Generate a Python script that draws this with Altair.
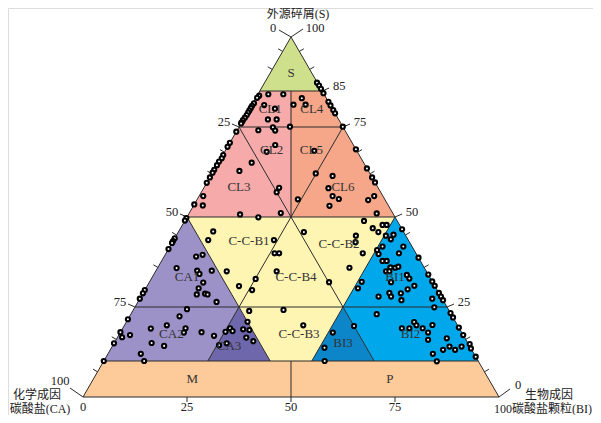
import altair as alt
import pandas as pd

# ---------------- sample compositions (S = 外源碎屑 %, BI = 生物成因碳酸盐颗粒 %) ----------------
S_VALS = [87.3, 86.5, 85.6, 84.4, 82.0, 81.0, 79.7, 78.8, 83.7, 83.1, 81.6, 80.9, 80.3, 79.6, 79.0, 78.3,
          77.6, 76.9, 76.3, 76.0, 84.1, 84.1, 81.1, 80.1, 77.1, 77.1, 81.2, 83.0, 81.2, 75.1, 75.1,
          74.1, 74.9, 74.0, 70.0, 68.1, 65.1, 62.8, 58.1, 56.9, 51.1, 50.7, 73.7, 70.6, 69.5, 67.2,
          66.3, 65.4, 64.4, 63.1, 62.3, 61.0, 59.5, 55.8, 53.2, 53.5, 68.8, 63.5, 61.0, 59.6, 62.1,
          68.4, 61.4, 58.0, 55.8, 55.0, 53.1, 54.9, 54.7, 55.8, 51.0,
          49.9, 46.0, 43.6, 43.6, 39.9, 39.9, 34.9, 34.9, 32.8, 29.7, 30.8, 45.8, 48.9, 46.9, 45.8,
          47.8, 47.8, 44.8, 43.0, 39.9, 35.9, 31.9, 24.2, 19.9, 23.9,
          49.7, 49.0, 44.1, 43.3, 42.8, 41.1, 39.0, 39.5, 35.8, 35.1, 34.2, 35.1, 31.8, 30.2, 28.5,
          28.7, 28.5, 26.4, 29.7, 28.8, 27.3,
          24.4, 22.4, 21.6, 19.9, 19.0, 19.1, 17.9, 18.0, 17.0, 18.0, 16.6, 17.2, 15.0, 14.2, 14.9,
          12.0, 10.0, 10.0,
          20.9, 19.1, 18.3, 18.1, 18.8, 18.6, 16.5, 15.5, 14.4, 14.9,
          46.6, 45.1, 43.8, 44.8, 41.8, 40.8, 39.7, 41.8, 39.9, 38.7, 37.8, 37.8, 36.0, 35.9, 36.2,
          34.9, 34.9, 33.9, 32.9, 34.0, 31.9, 30.9, 29.9, 32.1, 30.9, 28.8, 26.9, 28.9, 27.9, 27.9,
          27.3, 28.9, 27.9, 26.9, 24.9, 32.0, 30.2,
          23.0, 19.7, 17.9, 13.7, 10.0, 19.1, 19.1, 20.8, 19.9, 19.1, 17.9, 15.9, 20.0, 23.3, 22.1,
          19.3, 17.2, 16.3, 14.0, 13.1, 14.0, 13.1, 14.7, 13.5, 11.2, 12.0, 9.9]
BI_VALS = [12.6, 13.5, 14.4, 15.6, 18.0, 19.0, 20.3, 21.2, 0.5, 0.3, 0.3, 0.2, 0.2, 0.2, 0.2, 0.2,
           0.1, 0.0, 0.0, 0.0, 2.5, 6.1, 3.0, 6.1, 5.9, 8.0, 10.0, 11.1, 12.9, 12.2, 24.9,
           5.1, 8.2, 9.2, 11.2, 10.1, 8.0, 6.2, 18.1, 18.1, 22.0, 12.4, 0.0, 0.0, 0.0, 0.1,
           0.2, 0.0, 0.0, 0.0, 0.0, 0.0, 0.0, 1.0, 2.2, 0.0, 31.2, 36.5, 39.0, 40.4, 24.9,
           21.4, 29.3, 30.0, 32.1, 34.0, 32.7, 24.2, 41.2, 42.1, 45.1,
           17.2, 8.3, 8.3, 24.1, 26.1, 27.2, 29.1, 17.1, 25.1, 25.8, 22.1, 30.2, 43.1, 46.2, 48.1,
           48.1, 49.1, 43.2, 44.0, 47.3, 46.1, 43.2, 36.1, 43.0, 28.0,
           0.0, 0.0, 0.0, 0.0, 0.0, 0.0, 7.7, 9.0, 4.6, 9.9, 10.9, 13.4, 13.0, 12.7, 13.1,
           15.0, 15.7, 18.9, 0.0, 0.0, 0.0,
           12.8, 12.0, 0.0, 10.2, 6.8, 15.1, 15.3, 19.5, 23.0, 0.0, 1.1, 2.7, 9.0, 12.4, 0.0,
           7.9, 9.7, 0.0,
           29.1, 25.8, 26.8, 25.2, 29.1, 30.7, 31.0, 33.2, 25.5, 27.1,
           53.4, 52.1, 52.1, 50.4, 51.1, 50.3, 51.2, 56.1, 56.0, 61.3, 53.1, 54.1, 55.9, 57.1, 57.7,
           55.4, 56.2, 60.9, 62.0, 66.0, 58.1, 64.2, 63.1, 67.9, 69.1, 62.0, 63.1, 59.2, 60.1, 57.1,
           70.3, 71.1, 72.1, 73.1, 72.0, 51.0, 51.0,
           59.1, 55.3, 51.1, 51.2, 53.1, 67.1, 68.9, 69.2, 70.2, 72.1, 74.0, 75.0, 74.0, 76.7, 77.9,
           80.7, 82.8, 79.3, 81.1, 82.9, 84.0, 80.0, 85.6, 86.5, 88.8, 78.1, 80.1]

# ---------------- classification fields, vertices as (S %, BI %) ----------------
REGION_NAMES = ["S", "CL1", "CL4", "CL2", "CL3", "CL5", "CL6", "C-C-B1", "C-C-B2", "C-C-B4",
                "CA1", "BI1", "CA2", "CA3", "C-C-B3", "BI3", "BI2", "M", "P"]
REGION_VERTS = [
    [(85, 0), (85, 15), (100, 0)],
    [(75, 0), (75, 12.5), (85, 7.5), (85, 0)],
    [(75, 12.5), (75, 25), (85, 15), (85, 7.5)],
    [(75, 0), (75, 12.5), (50, 25)],
    [(50, 0), (75, 0), (50, 25)],
    [(75, 12.5), (75, 25), (50, 25)],
    [(75, 25), (50, 50), (50, 25)],
    [(50, 0), (50, 25), (25, 25)],
    [(50, 25), (50, 50), (25, 50)],
    [(50, 25), (25, 25), (25, 50)],
    [(50, 0), (25, 0), (25, 25)],
    [(50, 50), (25, 50), (25, 75)],
    [(25, 0), (25, 25), (10, 25), (10, 0)],
    [(25, 25), (10, 25), (10, 40)],
    [(25, 25), (25, 50), (10, 50), (10, 40)],
    [(25, 50), (10, 50), (10, 65)],
    [(25, 50), (25, 75), (10, 90), (10, 65)],
    [(0, 0), (0, 50), (10, 45), (10, 0)],
    [(0, 50), (0, 100), (10, 90), (10, 45)],
]
REGION_COLORS = ["#cfe08c", "#f6aaaa", "#f6a78a", "#f6aaaa", "#f6aaaa", "#f6a78a", "#f6a78a",
                 "#fff5b3", "#fff5b3", "#fff5b3", "#9c92c8", "#00a7ea", "#9c92c8", "#6f67ac",
                 "#fff5b3", "#0d86c9", "#00a7ea", "#fccb99", "#fccb99"]
# small label nudges in pixels (dx, dy)
LABEL_NUDGE = {"C-C-B1": (10, -6), "C-C-B2": (-4, -3), "CL2": (-2, -7), "CL5": (3, -7),
               "CA3": (-10, 3), "C-C-B3": (8, 0), "C-C-B4": (5, 0)}

# boundary segments, endpoints as (S, BI)
SEGMENTS = [
    ((0, 0), (100, 0)), ((100, 0), (0, 100)), ((0, 0), (0, 100)),
    ((85, 0), (85, 15)), ((75, 0), (75, 25)), ((50, 0), (50, 50)), ((25, 0), (25, 75)), ((10, 0), (10, 90)),
    ((0, 50), (10, 45)), ((50, 25), (85, 7.5)),
    ((75, 0), (50, 25)), ((75, 25), (50, 25)),
    ((50, 0), (10, 40)), ((50, 50), (10, 50)), ((50, 25), (10, 25)), ((50, 25), (10, 65)),
]

LEFT_LABELS = [25, 50, 75]          # CA % on the left edge
RIGHT_LABELS = [85, 75, 50, 25]     # S % on the right edge
BOTTOM_LABELS = [0, 25, 50, 75]
EDGE_TICKS = [96, 91, 68, 62, 45, 36, 16, 7]   # S % of small edge ticks

# ---------------- geometry / scales ----------------
W, H = 585, 407
KX, KY = 4.16, 3.6
X0, Y0 = 75, 389
UMIN = -X0 / KX
UMAX = UMIN + W / KX
VMAX = Y0 / KY
VMIN = VMAX - H / KY
XS = alt.Scale(domain=[UMIN, UMAX], nice=False, zero=False)
YS = alt.Scale(domain=[VMIN, VMAX], nice=False, zero=False)


def to_uv(s, bi):
    return bi + s / 2.0, s


def px(u, v, dx, dy):
    return u + dx / KX, v - dy / KY


FONT = "Liberation Serif, Noto Sans CJK SC"

# fields as area bands
rows = []
for name, verts in zip(REGION_NAMES, REGION_VERTS):
    uv = [to_uv(s, b) for s, b in verts]
    n = len(uv)
    for u0 in sorted(set(round(u, 6) for u, _ in uv)):
        vs = []
        for i in range(n):
            (u1, v1), (u2, v2) = uv[i], uv[(i + 1) % n]
            if abs(u1 - u2) < 1e-9:
                if abs(u1 - u0) < 1e-9:
                    vs += [v1, v2]
            elif min(u1, u2) - 1e-9 <= u0 <= max(u1, u2) + 1e-9:
                vs.append(v1 + (v2 - v1) * (u0 - u1) / (u2 - u1))
        rows.append(dict(region=name, u=u0, top=max(vs), bot=min(vs)))
area_df = pd.DataFrame(rows)

areas = alt.Chart(area_df).mark_area(opacity=1, strokeWidth=0).encode(
    x=alt.X("u:Q", scale=XS, axis=None),
    y=alt.Y("top:Q", scale=YS, axis=None, stack=None),
    y2="bot:Q",
    color=alt.Color("region:N", scale=alt.Scale(domain=REGION_NAMES, range=REGION_COLORS), legend=None),
    detail="region:N",
)

# boundary lines + ticks + leaders
seg_rows = []
for (a, b) in SEGMENTS:
    u1, v1 = to_uv(*a)
    u2, v2 = to_uv(*b)
    seg_rows.append(dict(u1=u1, v1=v1, u2=u2, v2=v2))
for s in EDGE_TICKS:
    u, v = to_uv(s, 0)
    x2, y2 = px(u, v, -4.5, -2.6)
    seg_rows.append(dict(u1=u, v1=v, u2=x2, v2=y2))
    u, v = to_uv(s, 100 - s)
    x2, y2 = px(u, v, 4.5, -2.6)
    seg_rows.append(dict(u1=u, v1=v, u2=x2, v2=y2))
for ca in LEFT_LABELS:
    u, v = to_uv(100 - ca, 0)
    x2, y2 = px(u, v, -7, -3)
    seg_rows.append(dict(u1=u, v1=v, u2=x2, v2=y2))
for s in RIGHT_LABELS:
    u, v = to_uv(s, 100 - s)
    x2, y2 = px(u, v, 7, -3)
    seg_rows.append(dict(u1=u, v1=v, u2=x2, v2=y2))
for b in BOTTOM_LABELS[1:]:
    u, v = to_uv(0, b)
    x2, y2 = px(u, v, 0, 5)
    seg_rows.append(dict(u1=u, v1=v, u2=x2, v2=y2))
# corner leaders
for (s, b, dx, dy) in [(100, 0, -12, -7), (100, 0, 12, -8), (0, 0, -13, -9), (0, 100, 11, -8)]:
    u, v = to_uv(s, b)
    x2, y2 = px(u, v, dx, dy)
    seg_rows.append(dict(u1=u, v1=v, u2=x2, v2=y2))
seg_df = pd.DataFrame(seg_rows)

lines = alt.Chart(seg_df).mark_rule(color="#2b2b2b", strokeWidth=1).encode(
    x=alt.X("u1:Q", scale=XS, axis=None), y=alt.Y("v1:Q", scale=YS, axis=None),
    x2="u2:Q", y2="v2:Q",
)

# samples
pts = []
for s, b in zip(S_VALS, BI_VALS):
    u, v = to_uv(s, b)
    pts.append(dict(u=u, v=v))
pt_df = pd.DataFrame(pts)
points = alt.Chart(pt_df).mark_point(shape="circle", filled=True, color="white", stroke="black",
                                     strokeWidth=2.1, size=17, opacity=1).encode(
    x=alt.X("u:Q", scale=XS, axis=None), y=alt.Y("v:Q", scale=YS, axis=None),
)

# region labels at vertex means
lab_rows = []
for name, verts in zip(REGION_NAMES, REGION_VERTS):
    uv = [to_uv(s, b) for s, b in verts]
    cu = sum(p[0] for p in uv) / len(uv)
    cv = sum(p[1] for p in uv) / len(uv)
    dx, dy = LABEL_NUDGE.get(name, (0, 0))
    cu, cv = px(cu, cv, dx, dy)
    lab_rows.append(dict(t=name, u=cu, v=cv))
lab_df = pd.DataFrame(lab_rows)
region_text = alt.Chart(lab_df).mark_text(font=FONT, fontSize=13, color="#333333", baseline="middle").encode(
    x=alt.X("u:Q", scale=XS, axis=None), y=alt.Y("v:Q", scale=YS, axis=None), text="t:N",
)

# axis / tick text
txt = []
for ca in LEFT_LABELS:
    u, v = to_uv(100 - ca, 0)
    x, y = px(u, v, -15, -5)
    txt.append(dict(t=str(ca), u=x, v=y))
for s in RIGHT_LABELS:
    u, v = to_uv(s, 100 - s)
    x, y = px(u, v, 17, -5)
    txt.append(dict(t=str(s), u=x, v=y))
for b in BOTTOM_LABELS:
    u, v = to_uv(0, b)
    x, y = px(u, v, 0, 10)
    txt.append(dict(t=str(b), u=x, v=y))
u, v = to_uv(100, 0)
x, y = px(u, v, -18, -9); txt.append(dict(t="0", u=x, v=y))
x, y = px(u, v, 24, -9); txt.append(dict(t="100", u=x, v=y))
u, v = to_uv(0, 0)
x, y = px(u, v, -23, -16); txt.append(dict(t="100", u=x, v=y))
u, v = to_uv(0, 100)
x, y = px(u, v, 19, -12); txt.append(dict(t="0", u=x, v=y))
txt_df = pd.DataFrame(txt)
axis_text = alt.Chart(txt_df).mark_text(font=FONT, fontSize=12.5, color="#222222", baseline="middle").encode(
    x=alt.X("u:Q", scale=XS, axis=None), y=alt.Y("v:Q", scale=YS, axis=None), text="t:N",
)

# axis titles (Chinese)
ttl = []
u, v = to_uv(100, 0)
x, y = px(u, v, 7, -23); ttl.append(dict(t="外源碎屑(S)", u=x, v=y))
u, v = to_uv(0, 0)
x, y = px(u, v, -46, -2); ttl.append(dict(t="化学成因", u=x, v=y))
x, y = px(u, v, -43, 12); ttl.append(dict(t="碳酸盐(CA)", u=x, v=y))
u, v = to_uv(0, 100)
x, y = px(u, v, 50, -2); ttl.append(dict(t="生物成因", u=x, v=y))
x, y = px(u, v, 44, 12); ttl.append(dict(t="100碳酸盐颗粒(BI)", u=x, v=y))
ttl_df = pd.DataFrame(ttl)
title_text = alt.Chart(ttl_df).mark_text(font=FONT, fontSize=12, color="#222222", baseline="middle").encode(
    x=alt.X("u:Q", scale=XS, axis=None), y=alt.Y("v:Q", scale=YS, axis=None), text="t:N",
)

chart = alt.layer(areas, lines, points, region_text, axis_text, title_text).properties(
    width=W, height=H, autosize=alt.AutoSizeParams(type="none"), padding=0,
).configure_view(stroke=None).configure(background="white")

chart.save("out.html", embed_options={"renderer": "svg", "actions": False})
